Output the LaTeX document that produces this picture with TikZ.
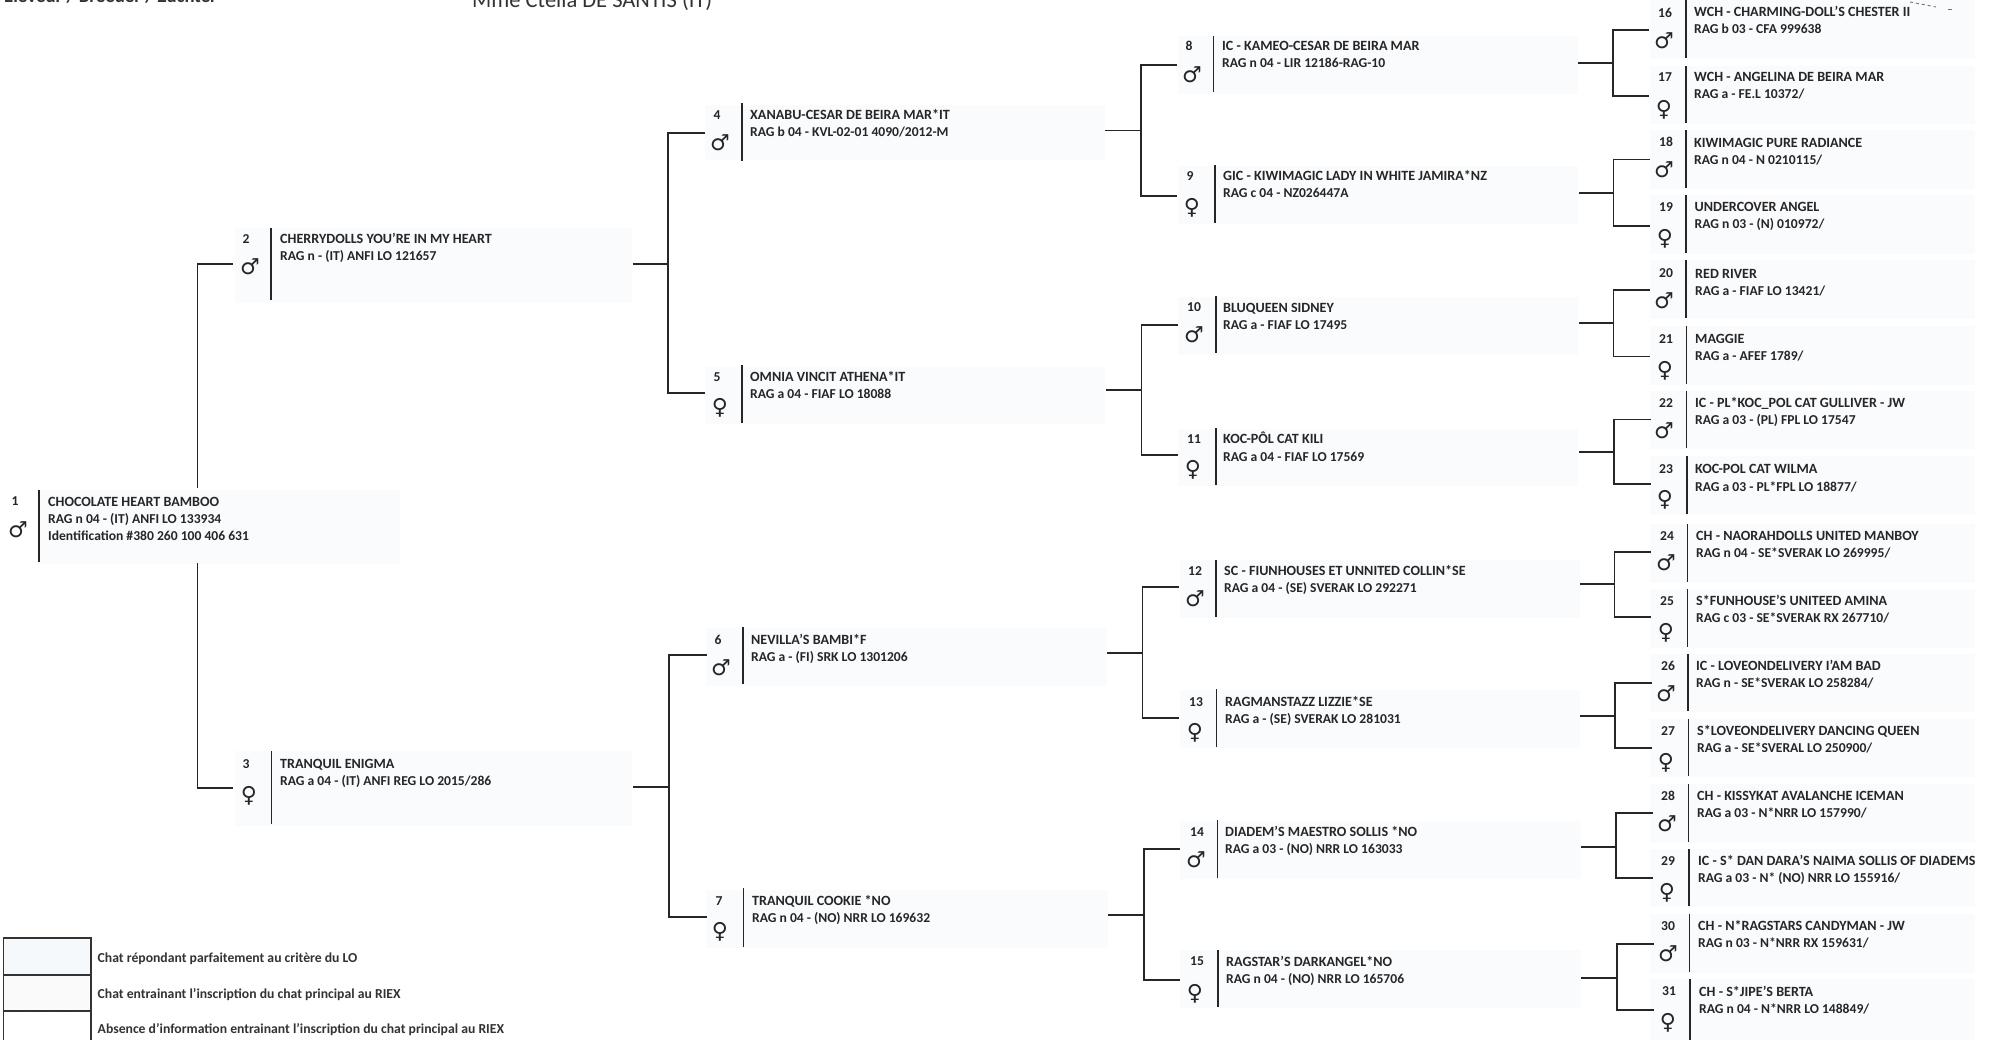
\documentclass[tikz,border=0pt]{standalone}
\usepackage{fontspec}
\usetikzlibrary{patterns}
\setmainfont{Carlito}
\newfontfamily\symfont{DejaVu Sans}
\definecolor{paleblue}{HTML}{FAFBFD}
\definecolor{legblue}{HTML}{F6F9FC}
\definecolor{palehatch}{HTML}{F1F2F3}
\tikzset{x=1pt,y=-1pt,
 link/.style={line width=1.9pt,line cap=butt,line join=miter,color=black!85},
 barline/.style={line width=1.2pt,color=black!85},
 txt/.style={font=\bfseries\fontsize{13.6}{14}\selectfont,anchor=base west,inner sep=0pt,color=black!85},
 namer/.style={txt,font=\bfseries\fontsize{14.1}{14}\selectfont},
 num/.style={font=\bfseries\fontsize{13.6}{14}\selectfont,anchor=base,inner sep=0pt,color=black!85},
 gsym/.style={font=\symfont\fontsize{22}{22}\selectfont,anchor=center,inner sep=0pt,color=black!85},
 legbox/.style={draw=black!80,line width=1.1pt},
 legtxt/.style={font=\bfseries\fontsize{13.7}{13}\selectfont,anchor=base west,inner sep=0pt,color=black!80},
}
\newcommand\catmark[9]{%
 \node[num] (n#1) at (#2,#3+5) {#1};
 \node[gsym] (g#1) at (#4,#5) {#6};
 \coordinate (ba#1) at (#7,#8);
 \coordinate (bb#1) at (#7,#9);
 \draw[barline] (ba#1) -- (bb#1);
}
\newcommand\cattext[5]{%
 \node[namer] (t#1) at (#2,#3+5) {#4};
 \node[txt] (u#1) at (#2,#3+22) {#5};
}
\newcommand\shadebox[4]{\fill[paleblue] (#1,#2) rectangle (#3,#4);}
\newcommand\ma{♂}
\newcommand\fe{♀}
\newcommand\bracket[7]{%
 \coordinate (o#1) at (#2,#3);
 \coordinate (j#1) at (#4,#3);
 \coordinate (pa#1) at (#6,#5);
 \coordinate (pb#1) at (#6,#7);
 \draw[link] (o#1) -- (j#1);
 \draw[link] (pa#1) -| (j#1) |- (pb#1);
}
\begin{document}
\begin{tikzpicture}
\useasboundingbox (0,0) rectangle (1990,1040);
\fill[white] (0,0) rectangle (1990,1040);
% shading
\shadebox{40}{490}{400}{564}
\shadebox{235}{228}{632}{303}
\shadebox{235}{751}{632}{826}
\shadebox{705}{105}{1105}{160}
\shadebox{705}{367}{1105}{424}
\shadebox{706}{628}{1107}{686}
\shadebox{706}{890}{1108}{948}
\shadebox{1178}{36}{1578}{94}
\shadebox{1178}{166}{1578}{224}
\shadebox{1178}{297}{1578}{355}
\shadebox{1178}{429}{1578}{486}
\shadebox{1180}{560}{1580}{618}
\shadebox{1180}{690}{1580}{748}
\shadebox{1180}{821}{1581}{879}
\shadebox{1180}{950}{1581}{1008}
\foreach \a/\b in {0/59,66/124,130/189,195/254,260/319,326/385,391/449,456/515,524/583,589/648,654/712,719/777,784/843,849/907,914/973,979/1040}
 {\shadebox{1650}{\a}{1975}{\b}}
% generation 0
\catmark{1}{15}{500}{18}{530}{\ma}{39}{490}{562}
\node[namer] (t1) at (48,506) {CHOCOLATE HEART BAMBOO};
\node[txt] (u1) at (48,523) {RAG n 04 - (IT) ANFI LO 133934};
\node[txt] (v1) at (48,540) {Identification \#380 260 100 406 631};
% generation 1
\catmark{2}{246}{239}{250}{267}{\ma}{271}{228}{300}
\cattext{2}{280}{239}{CHERRYDOLLS YOU'RE IN MY HEART}{RAG n - (IT) ANFI LO 121657}
\catmark{3}{246}{763}{249}{796}{\fe}{271.5}{751}{824}
\cattext{3}{280}{763}{TRANQUIL ENIGMA}{RAG a 04 - (IT) ANFI REG LO 2015/286}
% generation 2
\catmark{4}{717}{115}{720}{143}{\ma}{742}{103}{161}
\cattext{4}{750}{115}{XANABU-CESAR DE BEIRA MAR*IT}{RAG b 04 - KVL-02-01 4090/2012-M}
\catmark{5}{717}{377}{720}{408}{\fe}{742}{365}{423}
\cattext{5}{750}{377}{OMNIA VINCIT ATHENA*IT}{RAG a 04 - FIAF LO 18088}
\catmark{6}{718}{639}{721}{668}{\ma}{743}{627}{684}
\cattext{6}{751}{639}{NEVILLA'S BAMBI*F}{RAG a - (FI) SRK LO 1301206}
\catmark{7}{719}{900}{720}{932}{\fe}{743.5}{888}{947}
\cattext{7}{752}{900}{TRANQUIL COOKIE *NO}{RAG n 04 - (NO) NRR LO 169632}
% generation 3
\catmark{8}{1189}{46}{1192}{75}{\ma}{1213.5}{36}{92}
\cattext{8}{1222}{46}{IC - KAMEO-CESAR DE BEIRA MAR}{RAG n 04 - LIR 12186-RAG-10}
\catmark{9}{1190}{176}{1192}{208}{\fe}{1215}{165}{223}
\cattext{9}{1223}{176}{GIC - KIWIMAGIC LADY IN WHITE JAMIRA*NZ}{RAG c 04 - NZ026447A}
\catmark{10}{1194}{307}{1194}{335}{\ma}{1216}{296}{353}
\cattext{10}{1223}{307.5}{BLUQUEEN SIDNEY}{RAG a - FIAF LO 17495}
\catmark{11}{1194}{438}{1193}{470}{\fe}{1216}{428}{485}
\cattext{11}{1223}{439}{KOC-PÔL CAT KILI}{RAG a 04 - FIAF LO 17569}
\catmark{12}{1195}{570}{1195}{599}{\ma}{1216}{560}{617}
\cattext{12}{1224}{570}{SC - FIUNHOUSES ET UNNITED COLLIN*SE}{RAG a 04 - (SE) SVERAK LO 292271}
\catmark{13}{1196}{701}{1195}{733}{\fe}{1216.5}{689}{746.5}
\cattext{13}{1225}{701}{RAGMANSTAZZ LIZZIE*SE}{RAG a - (SE) SVERAK LO 281031}
\catmark{14}{1197}{831}{1196}{860}{\ma}{1217.5}{820}{877.5}
\cattext{14}{1225}{831}{DIADEM'S MAESTRO SOLLIS *NO}{RAG a 03 - (NO) NRR LO 163033}
\catmark{15}{1197}{960}{1195}{994}{\fe}{1218}{949.5}{1007}
\cattext{15}{1226}{961}{RAGSTAR'S DARKANGEL*NO}{RAG n 04 - (NO) NRR LO 165706}
% generation 4
\catmark{16}{1665}{13}{1664}{41}{\ma}{1686}{0}{58}
\cattext{16}{1694}{12}{WCH - CHARMING-DOLL'S CHESTER II}{RAG b 03 - CFA 999638}
\catmark{17}{1665}{77}{1664}{110}{\fe}{1686}{66}{123}
\cattext{17}{1694}{77}{WCH - ANGELINA DE BEIRA MAR}{RAG a - FE.L 10372/}
\catmark{18}{1666}{142}{1664}{170}{\ma}{1686}{130}{188}
\cattext{18}{1694}{143}{KIWIMAGIC PURE RADIANCE}{RAG n 04 - N 0210115/}
\catmark{19}{1666}{207}{1665}{239}{\fe}{1686}{195}{253}
\cattext{19}{1694.5}{207}{UNDERCOVER ANGEL}{RAG n 03 - (N) 010972/}
\catmark{20}{1666}{273}{1664}{301}{\ma}{1686}{260}{318}
\cattext{20}{1695}{273.5}{RED RIVER}{RAG a - FIAF LO 13421/}
\catmark{21}{1666}{339}{1665}{371}{\fe}{1686.5}{326}{384}
\cattext{21}{1695}{339}{MAGGIE}{RAG a - AFEF 1789/}
\catmark{22}{1666}{403}{1664}{431}{\ma}{1686.5}{391}{448}
\cattext{22}{1695}{403}{IC - PL*KOC\_POL CAT GULLIVER - JW}{RAG a 03 - (PL) FPL LO 17547}
\catmark{23}{1666}{469}{1665}{500}{\fe}{1687}{456}{514}
\cattext{23}{1695}{469}{KOC-POL CAT WILMA}{RAG a 03 - PL*FPL LO 18877/}
\catmark{24}{1667}{535}{1666}{563}{\ma}{1687.5}{524}{582}
\cattext{24}{1696}{535}{CH - NAORAHDOLLS UNITED MANBOY}{RAG n 04 - SE*SVERAK LO 269995/}
\catmark{25}{1667}{600}{1666}{633}{\fe}{1687.5}{589}{647}
\cattext{25}{1696}{600}{S*FUNHOUSE'S UNITEED AMINA}{RAG c 03 - SE*SVERAK RX 267710/}
\catmark{26}{1668}{665}{1666}{694}{\ma}{1688}{654}{711}
\cattext{26}{1696}{665}{IC - LOVEONDELIVERY I'AM BAD}{RAG n - SE*SVERAK LO 258284/}
\catmark{27}{1668}{730}{1666}{763}{\fe}{1688.5}{719}{776}
\cattext{27}{1697}{730}{S*LOVEONDELIVERY DANCING QUEEN}{RAG a - SE*SVERAL LO 250900/}
\catmark{28}{1668}{795}{1667}{824}{\ma}{1688.5}{784}{842}
\cattext{28}{1697}{795}{CH - KISSYKAT AVALANCHE ICEMAN}{RAG a 03 - N*NRR LO 157990/}
\catmark{29}{1668}{860}{1667}{893}{\fe}{1689}{849}{906}
\cattext{29}{1698}{860}{IC - S* DAN DARA'S NAIMA SOLLIS OF DIADEMS}{RAG a 03 - N* (NO) NRR LO 155916/}
\catmark{30}{1668}{925}{1668}{954}{\ma}{1689.5}{914}{972}
\cattext{30}{1698}{925}{CH - N*RAGSTARS CANDYMAN - JW}{RAG n 03 - N*NRR RX 159631/}
\catmark{31}{1669}{990}{1668}{1023}{\fe}{1690}{979}{1040}
\cattext{31}{1699}{991}{CH - S*JIPE'S BERTA}{RAG n 04 - N*NRR LO 148849/}
% connectors
\bracket{2}{632.5}{263.7}{668}{132.7}{705}{393.4}
\bracket{3}{633}{786.7}{669}{655}{706.5}{917}
\bracket{4}{1105}{130.5}{1141}{65}{1177}{196}
\bracket{5}{1106}{390}{1141.5}{325}{1177.5}{455}
\bracket{6}{1107}{653}{1142.5}{587}{1179}{718}
\bracket{7}{1108}{915}{1144}{849}{1180}{980}
\bracket{8}{1578}{63}{1613}{30}{1649}{96}
\bracket{9}{1578.5}{193}{1613.5}{159.5}{1650}{226}
\bracket{10}{1578.5}{323}{1613.5}{290}{1650}{356.5}
\bracket{11}{1579}{452}{1614}{419.5}{1650.5}{484}
\bracket{12}{1579.5}{584}{1614.5}{552}{1651}{617}
\bracket{13}{1580}{716}{1615}{683}{1652}{748}
\bracket{14}{1581}{847}{1616}{813}{1653}{878}
\bracket{15}{1581}{978}{1617}{944}{1653.5}{1010}
% root
\coordinate (ra) at (197.5,488);
\coordinate (rb) at (197.5,563);
\coordinate (p2) at (233,264);
\coordinate (p3) at (233,787.7);
\draw[link] (p2) -| (ra);
\draw[link] (p3) -| (rb);
% headings clipped by the page top
\node[anchor=base west,inner sep=0pt,font=\bfseries\fontsize{18.8}{20}\selectfont,color=black!80] (hd1) at (4,3) {Eleveur / Breeder / Züchter};
\node[anchor=base west,inner sep=0pt,font=\fontsize{22.5}{22}\selectfont,color=black!80] (hd2) at (472,7.5) {Mme Ctelia DE SANTIS (IT)};
% scan mark
\draw[black!55,line width=0.9pt,dashed] (1910,2) -- (1936,7);
\draw[black!55,line width=0.9pt] (1948,9) -- (1952,9);
% legend
\fill[legblue] (3.5,938) rectangle (91,975);
\fill[pattern=north east lines,pattern color=palehatch] (3.5,975) rectangle (91,1011);
\draw[legbox] (3.5,938) rectangle (91,975);
\draw[legbox] (3.5,975) rectangle (91,1011);
\draw[legbox] (3.5,1011) rectangle (91,1045);
\node[legtxt] (l1) at (97.5,962) {Chat répondant parfaitement au critère du LO};
\node[legtxt] (l2) at (97.5,998) {Chat entrainant l'inscription du chat principal au RIEX};
\node[legtxt] (l3) at (97.5,1033) {Absence d'information entrainant l'inscription du chat principal au RIEX};
\end{tikzpicture}
\end{document}
